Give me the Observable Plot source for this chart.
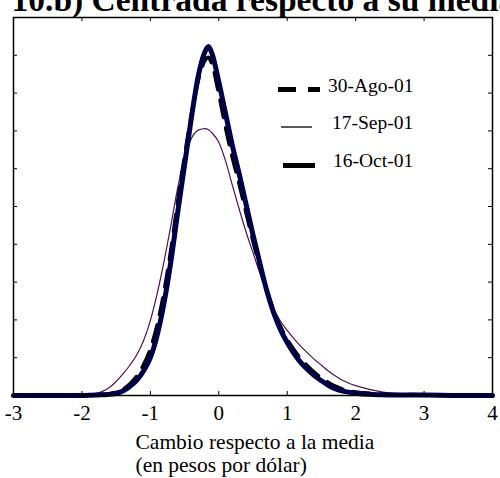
<!DOCTYPE html>
<html><head><meta charset="utf-8">
<script src="https://cdn.jsdelivr.net/npm/d3@7"></script>
<script src="https://cdn.jsdelivr.net/npm/@observablehq/plot@0.6"></script>
<style>body{margin:0;background:#fff}</style>
</head><body><div id="chart"></div>
<script>
const xGrid = [-3,-2.5,-2.2,-2.0,-1.9,-1.8,-1.7,-1.6,-1.5,-1.4,-1.3,-1.2,-1.1,-1.0,-0.9,-0.8,-0.7,-0.6,-0.5,-0.4,-0.3,-0.2,-0.15,-0.1,0.0,0.1,0.2,0.3,0.4,0.5,0.6,0.7,0.8,0.9,1.0,1.1,1.2,1.3,1.4,1.5,1.6,1.7,1.8,2.0,2.2,2.4,2.6,2.8,3.0,3.5,4.0];
const ago = [0,0,0,0.005,0.01,0.015,0.025,0.04,0.08,0.16,0.3,0.5,0.8,1.22,1.85,2.72,3.82,5.1,6.3,7.4,8.35,8.88,8.94,8.78,8.0,7.1,6.3,5.6,4.85,4.1,3.42,2.78,2.25,1.82,1.48,1.2,0.96,0.77,0.6,0.46,0.34,0.24,0.17,0.09,0.05,0.03,0.02,0.02,0.01,0,0];
const sep = [0,0,0.003,0.01,0.02,0.05,0.11,0.21,0.37,0.57,0.8,1.07,1.45,1.98,2.7,3.55,4.5,5.5,6.3,6.8,7.02,7.06,7.03,6.95,6.7,6.2,5.55,4.92,4.32,3.78,3.24,2.74,2.3,1.97,1.72,1.5,1.3,1.12,0.95,0.8,0.65,0.52,0.41,0.26,0.16,0.09,0.04,0.01,0,0,0];
const oct = [0,0,0,0,0.005,0.01,0.02,0.03,0.06,0.12,0.24,0.4,0.65,1.0,1.6,2.45,3.55,4.85,6.1,7.35,8.45,9.1,9.23,9.05,8.3,7.45,6.6,5.85,5.05,4.25,3.5,2.78,2.2,1.75,1.4,1.11,0.87,0.68,0.52,0.39,0.27,0.18,0.12,0.06,0.03,0.02,0.01,0.01,0.01,0,0];
const seriesNames = ["30-Ago-01","17-Sep-01","16-Oct-01"];
const xTicks = [-3,-2,-1,0,1,2,3,4];
const yTicks = d3.range(0, 11);
const title = "10.b) Centrada respecto a su media";
const xLabel = ["Cambio respecto a la media", "(en pesos por dólar)"];

const W = 500, H = 478, mL = 13, mR = 8, mT = 17, mB = 83;
const pw = W - mL - mR, ph = H - mT - mB;
const tickLen = 4;
const serif = "'Liberation Serif', 'Times New Roman', serif";

const rows = (ys) => xGrid.map((x, i) => ({x, y: ys[i]}));

function legend() {
  const g = d3.create("svg:g").attr("font-family", serif).attr("font-size", 19.5).attr("text-anchor", "start");
  const items = [
    {name: seriesNames[0], x1: 278, x2: 320, y: 89.5, tx: 328, ty: 92, w: 5, dash: "18,12"},
    {name: seriesNames[1], x1: 281, x2: 312, y: 127, tx: 332, ty: 129, w: 1.3, dash: null},
    {name: seriesNames[2], x1: 283, x2: 315, y: 165.5, tx: 333, ty: 167, w: 5, dash: null}
  ];
  for (const it of items) {
    const l = g.append("line").attr("x1", it.x1).attr("x2", it.x2).attr("y1", it.y).attr("y2", it.y)
      .attr("stroke", "black").attr("stroke-width", it.w);
    if (it.dash) l.attr("stroke-dasharray", it.dash);
    g.append("text").attr("x", it.tx).attr("y", it.ty).attr("fill", "black")
      .attr("text-anchor", "start").text(it.name);
  }
  return g.node();
}

const chart = Plot.plot({
  width: W, height: H,
  marginLeft: mL, marginRight: mR, marginTop: mT, marginBottom: mB,
  style: {fontFamily: serif, background: "white", color: "black", overflow: "visible"},
  x: {domain: [-3, 4]},
  y: {domain: [0, 10], axis: null},
  marks: [
    Plot.line(rows(sep), {x: "x", y: "y", stroke: "#4d1552", strokeWidth: 1.2, curve: "monotone-x"}),
    Plot.line(rows(ago), {x: "x", y: "y", stroke: "black", strokeWidth: 4, strokeDasharray: "17,11", curve: "monotone-x"}),
    Plot.line(rows(oct), {x: "x", y: "y", stroke: "#00004a", strokeWidth: 5, strokeLinejoin: "round", curve: "monotone-x"}),
    Plot.frame({stroke: "black", strokeWidth: 1.5}),
    Plot.tickX(xTicks, {x: d => d, insetTop: ph - tickLen, stroke: "black"}),
    Plot.tickX(xTicks, {x: d => d, insetBottom: ph - tickLen, stroke: "black"}),
    Plot.tickY(yTicks, {y: d => d, insetRight: pw - tickLen, stroke: "black"}),
    Plot.tickY(yTicks, {y: d => d, insetLeft: pw - tickLen, stroke: "black"}),
    Plot.axisX(xTicks, {tickSize: 0, tickPadding: 10, fontSize: 21, tickFormat: d => String(d), label: null}),
    Plot.text([title], {frameAnchor: "top-left", dx: -2, dy: -7, lineAnchor: "bottom", textAnchor: "start", fontSize: 33.5, fontWeight: "bold", fill: "black"}),
    Plot.text([xLabel[0]], {frameAnchor: "bottom-left", dx: 122, dy: 53, lineAnchor: "bottom", textAnchor: "start", fontSize: 21.5, fill: "black"}),
    Plot.text([xLabel[1]], {frameAnchor: "bottom-left", dx: 122, dy: 76, lineAnchor: "bottom", textAnchor: "start", fontSize: 21.5, fill: "black"}),
    legend
  ]
});
document.getElementById("chart").appendChild(chart);
</script>
</body></html>
